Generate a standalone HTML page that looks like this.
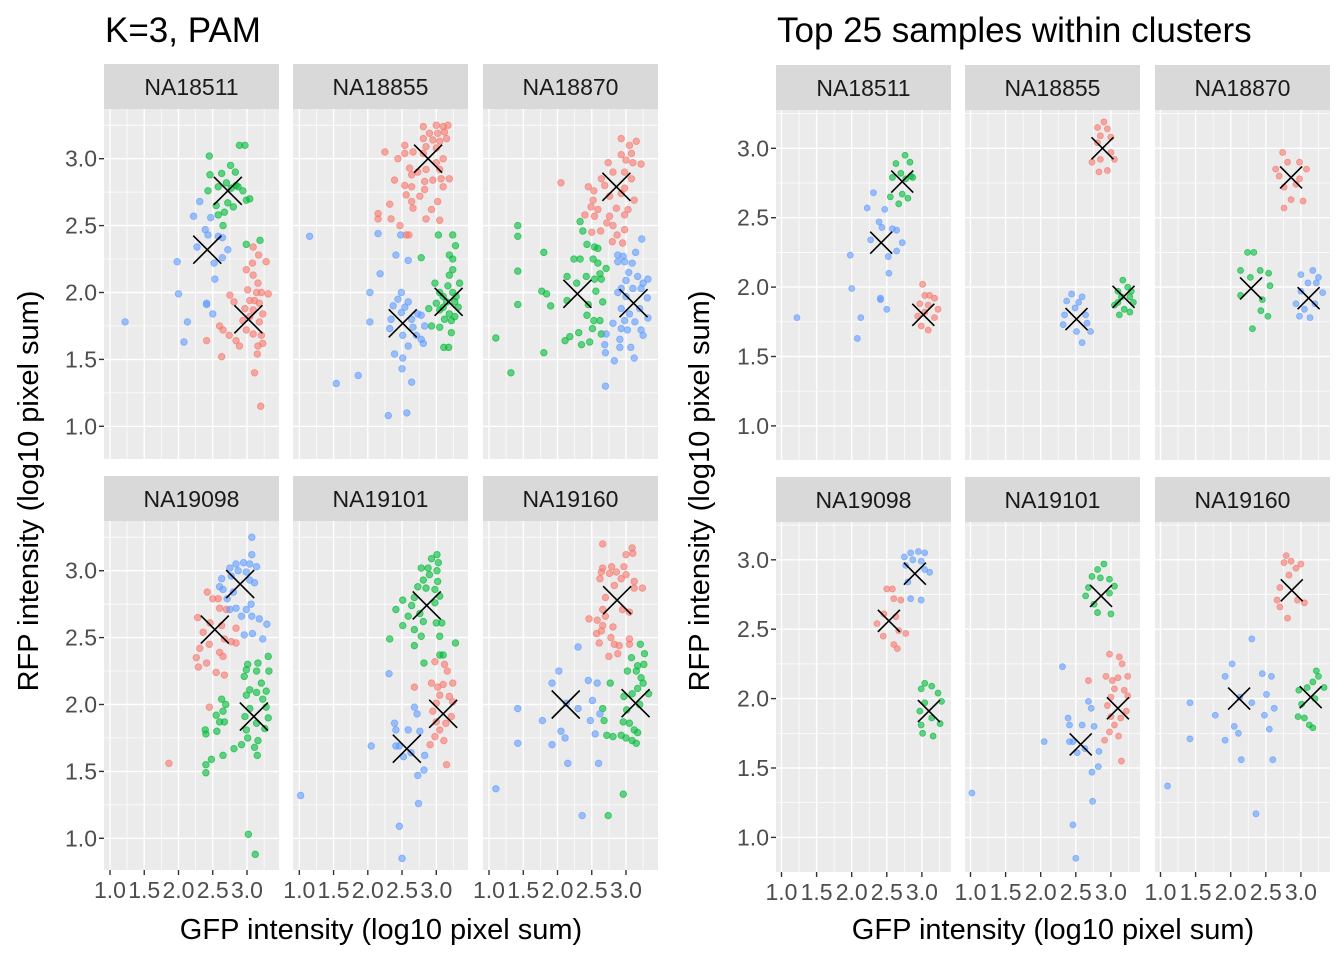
<!DOCTYPE html>
<html><head><meta charset="utf-8"><style>
html,body{margin:0;padding:0;background:#fff;}
svg{display:block;font-family:"Liberation Sans",Arial,sans-serif;}
</style></head><body>
<svg id="chart" width="1344" height="960" viewBox="0 0 1344 960">
<text x="105" y="42" font-size="35" fill="#000">K=3, PAM</text>
<text x="777" y="42" font-size="35" fill="#000">Top 25 samples within clusters</text>
<text x="381" y="939" font-size="29" text-anchor="middle" fill="#000">GFP intensity (log10 pixel sum)</text>
<text x="1053" y="939" font-size="29" text-anchor="middle" fill="#000">GFP intensity (log10 pixel sum)</text>
<text transform="translate(38,491) rotate(-90)" font-size="29" text-anchor="middle" fill="#000">RFP intensity (log10 pixel sum)</text>
<text transform="translate(709,491) rotate(-90)" font-size="29" text-anchor="middle" fill="#000">RFP intensity (log10 pixel sum)</text>
<g id="plots"></g>
</svg>
<script>
const samples = ['NA18511','NA18855','NA18870','NA19098','NA19101','NA19160'];
const xTicks = [1.0,1.5,2.0,2.5,3.0];
const xTickLabels = ['1.0','1.5','2.0','2.5','3.0'];
const yTicks = [1.0,1.5,2.0,2.5,3.0];
const yTickLabels = ['1.0','1.5','2.0','2.5','3.0'];
const clusterColors = ['#F8766D','#00BA38','#619CFF'];

const na18511_red = [[3.09,2.34],[3.17,2.28],[2.99,2.17],[3.09,2.13],[3.28,2.23],[3.08,2.22],[3.16,2.07],[3.01,2.02],[3.14,2.00],[3.21,2.00],[3.31,1.99],[2.75,1.98],[2.81,1.93],[3.04,1.94],[3.11,1.94],[3.18,1.92],[2.97,1.88],[3.09,1.87],[3.23,1.84],[3.04,1.82],[2.94,1.79],[3.18,1.78],[2.60,1.75],[2.65,1.72],[2.74,1.68],[2.84,1.64],[2.89,1.60],[2.99,1.72],[3.09,1.69],[3.21,1.68],[3.16,1.60],[3.23,1.62],[2.41,1.64],[2.63,1.52],[3.15,1.54],[3.11,1.40],[3.20,1.15]];
const na18511_green = [[2.45,3.02],[2.89,3.10],[2.97,3.10],[2.46,2.88],[2.63,2.89],[2.76,2.95],[2.83,2.90],[2.43,2.76],[2.58,2.79],[2.70,2.82],[2.84,2.80],[2.94,2.76],[2.72,2.67],[2.80,2.64],[2.99,2.69],[3.04,2.70],[2.55,2.65],[2.67,2.60],[2.58,2.58],[2.65,2.50],[2.99,2.36],[3.19,2.39],[2.87,2.79],[2.77,2.78]];
const na18511_blue = [[2.31,2.68],[2.22,2.57],[2.47,2.56],[2.39,2.47],[2.43,2.43],[2.58,2.42],[2.64,2.41],[2.72,2.32],[2.27,2.34],[2.52,2.22],[2.64,2.26],[1.98,2.23],[2.53,2.10],[2.00,1.99],[2.41,1.92],[2.41,1.91],[2.50,1.84],[2.13,1.78],[1.22,1.78],[2.08,1.63]];

const na18855_red = [[2.81,3.24],[3.00,3.25],[3.10,3.24],[3.17,3.25],[2.90,3.19],[3.02,3.19],[3.12,3.20],[2.81,3.15],[2.95,3.14],[3.05,3.13],[3.15,3.15],[2.54,3.10],[2.85,3.09],[3.00,3.08],[2.25,3.05],[2.44,3.00],[2.54,3.04],[2.66,3.05],[2.81,3.04],[3.10,3.00],[3.00,2.97],[2.61,2.93],[2.73,2.90],[2.85,2.92],[3.05,2.92],[3.19,2.85],[2.64,2.88],[2.83,2.83],[2.95,2.84],[3.07,2.85],[2.39,2.84],[2.54,2.80],[2.64,2.79],[2.83,2.77],[3.10,2.79],[2.56,2.73],[2.76,2.72],[2.64,2.68],[2.66,2.63],[2.32,2.66],[3.02,2.68],[2.93,2.62],[2.15,2.59],[2.15,2.55],[2.34,2.55],[2.47,2.50],[2.85,2.55],[3.05,2.54],[2.56,2.43],[2.60,2.43]];
const na18855_green = [[3.03,2.43],[3.24,2.43],[3.28,2.35],[2.78,2.26],[3.19,2.28],[3.24,2.25],[3.24,2.17],[3.19,2.13],[2.98,2.07],[3.34,2.07],[3.17,2.05],[3.05,2.00],[3.24,2.00],[3.10,1.97],[3.29,1.97],[3.00,1.92],[3.15,1.93],[3.27,1.93],[3.32,1.89],[2.89,1.88],[3.05,1.87],[3.19,1.84],[3.12,1.80],[3.22,1.79],[2.93,1.75],[3.05,1.74],[3.22,1.70],[3.11,1.59],[3.18,1.59],[3.10,1.89],[3.27,1.82]];
const na18855_blue = [[1.15,2.42],[2.15,2.44],[2.48,2.43],[2.41,2.28],[2.59,2.24],[2.18,2.14],[2.03,2.00],[2.49,2.00],[2.44,1.95],[2.59,1.93],[2.54,1.89],[2.49,1.85],[2.34,1.80],[2.73,1.84],[2.78,1.83],[2.64,1.80],[2.83,1.75],[2.66,1.74],[2.32,1.73],[2.51,1.68],[2.71,1.68],[2.78,1.65],[2.81,1.62],[2.59,1.60],[2.39,1.54],[2.51,1.51],[2.50,1.43],[2.64,1.33],[1.86,1.38],[1.54,1.32],[2.30,1.08],[2.57,1.10],[2.03,1.78],[2.37,1.90]];

const na18870_red = [[2.93,3.15],[3.05,3.10],[3.15,3.13],[2.93,3.03],[3.08,3.04],[3.00,2.99],[2.74,2.97],[3.22,2.96],[3.10,2.97],[2.81,2.90],[2.98,2.90],[2.64,2.85],[3.08,2.85],[2.05,2.82],[2.45,2.79],[2.53,2.76],[2.69,2.80],[2.98,2.78],[2.93,2.74],[2.76,2.72],[3.12,2.69],[2.52,2.69],[2.49,2.64],[2.59,2.62],[2.86,2.63],[3.03,2.62],[2.40,2.58],[2.54,2.57],[2.76,2.57],[2.98,2.58],[2.72,2.52],[2.81,2.50],[2.98,2.47],[2.50,2.45],[2.63,2.46],[2.87,2.43],[2.80,2.38],[2.95,2.37]];
const na18870_green = [[1.42,2.50],[1.42,2.42],[1.80,2.30],[1.42,2.16],[1.42,1.91],[1.10,1.66],[1.32,1.40],[1.80,1.55],[1.77,2.01],[1.84,1.99],[1.90,1.90],[2.33,2.53],[2.37,2.46],[2.43,2.36],[2.54,2.34],[2.59,2.33],[2.24,2.25],[2.33,2.25],[2.52,2.25],[2.59,2.22],[2.71,2.18],[2.62,2.14],[2.14,2.12],[2.42,2.12],[2.54,2.10],[2.64,2.10],[2.28,2.07],[2.56,2.01],[2.14,1.94],[2.45,1.91],[2.66,1.93],[2.43,1.83],[2.53,1.79],[2.62,1.79],[2.51,1.73],[2.64,1.69],[2.11,1.64],[2.18,1.67],[2.31,1.70],[2.35,1.61],[2.47,1.63]];
const na18870_blue = [[3.23,2.40],[3.14,2.30],[2.88,2.28],[2.96,2.27],[2.88,2.23],[2.98,2.23],[3.09,2.22],[3.04,2.15],[3.17,2.12],[3.32,2.10],[3.00,2.09],[3.25,2.07],[2.93,2.03],[3.10,2.03],[3.22,2.03],[2.88,2.00],[3.00,1.97],[3.31,1.96],[2.93,1.88],[3.20,1.88],[3.05,1.84],[3.32,1.81],[2.98,1.79],[3.13,1.78],[2.81,1.77],[2.93,1.73],[3.02,1.72],[3.22,1.72],[2.71,1.69],[3.25,1.68],[2.91,1.65],[2.69,1.61],[2.91,1.59],[3.07,1.59],[2.70,1.55],[3.12,1.51],[2.83,1.49],[2.70,1.30]];

const na19098_red = [[2.42,2.84],[2.50,2.79],[2.58,2.79],[2.60,2.72],[2.70,2.71],[2.28,2.65],[2.46,2.61],[2.63,2.59],[2.84,2.57],[2.36,2.54],[2.67,2.49],[2.77,2.47],[2.84,2.46],[2.45,2.45],[2.31,2.42],[2.60,2.39],[2.65,2.36],[2.26,2.35],[2.29,2.28],[2.41,2.31],[2.55,2.24],[2.67,2.22],[2.45,1.98],[1.86,1.56]];
const na19098_green = [[3.31,2.36],[3.01,2.30],[3.16,2.31],[2.99,2.26],[3.14,2.25],[3.32,2.25],[2.96,2.21],[3.21,2.16],[3.04,2.11],[3.14,2.09],[3.28,2.10],[2.99,2.07],[3.23,2.04],[2.63,2.04],[2.69,2.00],[2.65,1.95],[2.55,1.92],[2.97,1.91],[3.04,1.97],[3.28,1.98],[3.31,1.90],[2.60,1.87],[2.67,1.87],[3.14,1.86],[3.26,1.82],[2.99,1.81],[2.39,1.81],[2.40,1.78],[2.56,1.80],[3.01,1.75],[3.16,1.73],[2.92,1.70],[2.81,1.67],[3.11,1.68],[2.65,1.62],[3.15,1.62],[2.48,1.59],[2.40,1.55],[2.40,1.49],[3.02,1.03],[3.12,0.88]];
const na19098_blue = [[3.07,3.25],[3.07,3.12],[2.84,3.05],[2.95,3.06],[3.04,3.05],[3.14,3.03],[2.75,3.02],[2.87,3.00],[2.99,2.99],[2.63,2.94],[2.77,2.96],[3.04,2.93],[3.11,2.91],[2.65,2.86],[2.80,2.84],[2.71,2.79],[3.06,2.75],[2.75,2.71],[2.84,2.72],[2.99,2.71],[2.92,2.66],[3.07,2.66],[3.18,2.64],[3.29,2.60],[2.96,2.52],[3.08,2.53],[3.23,2.49],[2.60,2.88]];

const na19101_red = [[2.98,2.32],[3.12,2.30],[3.16,2.25],[2.93,2.16],[2.68,2.13],[3.02,2.13],[3.10,2.15],[3.24,2.16],[3.05,2.07],[3.19,2.06],[3.00,2.01],[3.24,2.02],[2.95,1.95],[3.22,1.91],[3.00,1.87],[3.14,1.86],[3.05,1.81],[2.98,1.76],[3.11,1.73],[2.91,1.70],[3.15,1.55]];
const na19101_green = [[3.01,3.12],[3.03,3.06],[2.93,3.09],[2.78,3.02],[2.88,3.02],[3.01,3.00],[2.90,2.97],[2.81,2.93],[3.02,2.92],[2.73,2.88],[2.85,2.87],[2.98,2.86],[2.68,2.80],[3.05,2.81],[2.51,2.78],[2.64,2.74],[2.98,2.76],[2.41,2.71],[2.59,2.66],[2.76,2.68],[2.51,2.59],[2.81,2.62],[3.00,2.61],[3.08,2.61],[2.68,2.56],[2.78,2.51],[2.32,2.49],[3.05,2.51],[2.68,2.44],[3.28,2.46],[3.05,2.37],[2.82,2.31],[3.10,2.37]];
const na19101_blue = [[2.31,2.23],[2.68,1.98],[2.72,1.93],[2.39,1.86],[2.41,1.81],[2.59,1.81],[2.76,1.80],[2.05,1.69],[2.41,1.69],[2.46,1.69],[2.63,1.64],[2.52,1.61],[2.83,1.62],[2.82,1.51],[2.73,1.47],[2.74,1.26],[1.02,1.32],[2.46,1.09],[2.50,0.85]];

const na19160_red = [[2.66,3.20],[3.09,3.17],[3.00,3.12],[3.10,3.13],[2.66,3.02],[2.79,3.03],[2.97,3.03],[2.64,2.99],[2.86,2.99],[2.76,2.98],[2.93,2.94],[3.00,2.97],[2.62,2.94],[2.83,2.89],[3.12,2.92],[3.24,2.87],[3.12,2.87],[2.70,2.80],[2.95,2.71],[3.05,2.69],[2.66,2.71],[2.70,2.66],[2.46,2.64],[2.58,2.63],[2.66,2.59],[2.81,2.58],[2.64,2.55],[2.57,2.53],[2.78,2.50],[3.05,2.49],[2.61,2.46],[2.83,2.45],[2.90,2.44],[3.05,2.45],[2.75,2.36],[2.88,2.38]];
const na19160_green = [[3.21,2.45],[3.27,2.38],[3.08,2.35],[3.17,2.29],[3.26,2.30],[3.02,2.25],[3.15,2.25],[3.22,2.20],[3.25,2.16],[3.17,2.12],[3.33,2.08],[3.09,2.08],[2.97,2.06],[3.20,2.00],[2.77,2.16],[2.66,1.97],[2.68,1.88],[3.01,1.96],[2.96,1.87],[3.05,1.86],[3.12,1.81],[3.17,1.79],[2.72,1.77],[2.81,1.76],[2.93,1.77],[3.00,1.75],[3.09,1.73],[3.15,1.71],[2.96,1.33],[2.74,1.17]];
const na19160_blue = [[2.30,2.43],[2.02,2.25],[1.92,2.16],[2.45,2.18],[2.58,2.16],[1.42,1.97],[2.51,2.03],[2.30,1.97],[2.62,1.93],[1.78,1.88],[2.48,1.88],[2.05,1.80],[2.11,1.75],[2.55,1.78],[1.42,1.71],[1.92,1.70],[2.15,1.56],[2.60,1.56],[1.10,1.37],[2.36,1.17],[2.13,2.01]];

const centroidsRed = [[3.02,1.80],[2.88,3.00],[2.86,2.79],[2.53,2.56],[3.10,1.93],[2.87,2.78]];
const centroidsGreen = [[2.72,2.76],[3.18,1.93],[2.29,1.99],[3.10,1.91],[2.86,2.74],[3.14,2.01]];
const centroidsBlue = [[2.42,2.32],[2.51,1.77],[3.11,1.92],[2.90,2.90],[2.57,1.67],[2.12,2.00]];

const panelRed = [na18511_red,na18855_red,na18870_red,na19098_red,na19101_red,na19160_red];
const panelGreen = [na18511_green,na18855_green,na18870_green,na19098_green,na19101_green,na19160_green];
const panelBlue = [na18511_blue,na18855_blue,na18870_blue,na19098_blue,na19101_blue,na19160_blue];

const NS = 'http://www.w3.org/2000/svg';
const root = document.getElementById('plots');
function mk(tag, attrs, parent){
  const e = document.createElementNS(NS, tag);
  for (const k in attrs) e.setAttribute(k, attrs[k]);
  parent.appendChild(e);
  return e;
}
function topN(pts, c){
  if (pts.length <= 21) return pts;
  return pts.slice().sort((a,b)=>((a[0]-c[0])**2+(a[1]-c[1])**2)-((b[0]-c[0])**2+(b[1]-c[1])**2)).slice(0,12);
}

function drawFacets(cfg){
  const g = mk('g', {}, root);
  
  
  samples.forEach((s, i) => {
    const col = i % 3, row = Math.floor(i / 3);
    const x0 = cfg.px[col], w = 175;
    const top = cfg.stripTop[row], st = top + 45, pb = cfg.panelBottom[row];
    const y3 = cfg.y3[row];
    const xs = v => cfg.x1[col] + (v - 1) * cfg.xu;
    const ys = v => y3 - (v - 3) * cfg.yu;
    const pg = mk('g', {}, g);
    
    
    const strip = mk('rect', {x:x0, y:top, width:w, height:45, fill:'#D9D9D9'}, pg);
    
    
    const stxt = mk('text', {x:x0 + w/2, y:top + 31, 'font-size':23, 'text-anchor':'middle', fill:'#1A1A1A'}, pg);
    stxt.textContent = s;
    
    
    const bg = mk('rect', {x:x0, y:st, width:w, height:pb - st, fill:'#EBEBEB'}, pg);
    
    
    for (let v = 0.75; v <= 3.5; v += 0.25) {
      const major = Math.abs(v*2 - Math.round(v*2)) < 1e-6;
      const yy = ys(v);
      if (yy > st && yy < pb) {
        const ln = mk('line', {x1:x0, x2:x0 + w, y1:yy, y2:yy, stroke:'#fff', 'stroke-width': major ? 1.4 : 0.7}, pg);
        
        
      }
      const xx = xs(v);
      if (xx > x0 && xx < x0 + w) {
        const ln = mk('line', {x1:xx, x2:xx, y1:st, y2:pb, stroke:'#fff', 'stroke-width': major ? 1.4 : 0.7}, pg);
        
        
      }
    }
    if (col === 0) {
      yTicks.forEach((v, k) => {
        const yy = ys(v);
        const tk = mk('line', {x1:x0 - 5, x2:x0, y1:yy, y2:yy, stroke:'#333', 'stroke-width':1.4}, pg);
        
        
        const t = mk('text', {x:x0 - 7, y:yy + 8, 'font-size':23, 'text-anchor':'end', fill:'#4D4D4D'}, pg);
        t.textContent = yTickLabels[k];
        
        
      });
    }
    if (row === 1) {
      xTicks.forEach((v, k) => {
        const xx = xs(v);
        const tk = mk('line', {x1:xx, x2:xx, y1:pb, y2:pb + 5, stroke:'#333', 'stroke-width':1.4}, pg);
        
        
        const t = mk('text', {x:xx, y:pb + 28, 'font-size':23, 'text-anchor':'middle', fill:'#4D4D4D'}, pg);
        t.textContent = xTickLabels[k];
        
        
      });
    }
    const sets = [[panelRed[i], centroidsRed[i]], [panelGreen[i], centroidsGreen[i]], [panelBlue[i], centroidsBlue[i]]];
    sets.forEach((sc, ci) => {
      const pts = cfg.top ? topN(sc[0], sc[1]) : sc[0];
      pts.forEach(p => {
        const c = mk('circle', {cx:xs(p[0]), cy:ys(p[1]), r:cfg.r, fill:clusterColors[ci], 'fill-opacity':0.6, stroke:clusterColors[ci], 'stroke-opacity':0.7, 'stroke-width':0.8}, pg);
        
        
      });
    });
    sets.forEach(sc => {
      const cx = xs(sc[1][0]), cy = ys(sc[1][1]), d = cfg.xs;
      const m = mk('path', {d:`M${cx-d},${cy-d}L${cx+d},${cy+d}M${cx-d},${cy+d}L${cx+d},${cy-d}`, stroke:'#000', 'stroke-width':1.6, fill:'none'}, pg);
      
      
    });
  });
}

drawFacets({name:'left-facet-grid', top:false, px:[104,293,483], x1:[110,299.3,489], xu:68.5,
  stripTop:[64,476], panelBottom:[459,870], y3:[158.7,570.7], yu:133.8, r:3.3, xs:14});
drawFacets({name:'right-facet-grid', top:true, px:[776,965,1155], x1:[781.5,970.5,1160.5], xu:70.2,
  stripTop:[65,477], panelBottom:[460,872], y3:[148.3,559.8], yu:138.8, r:3.0, xs:11});
</script>
</body></html>
